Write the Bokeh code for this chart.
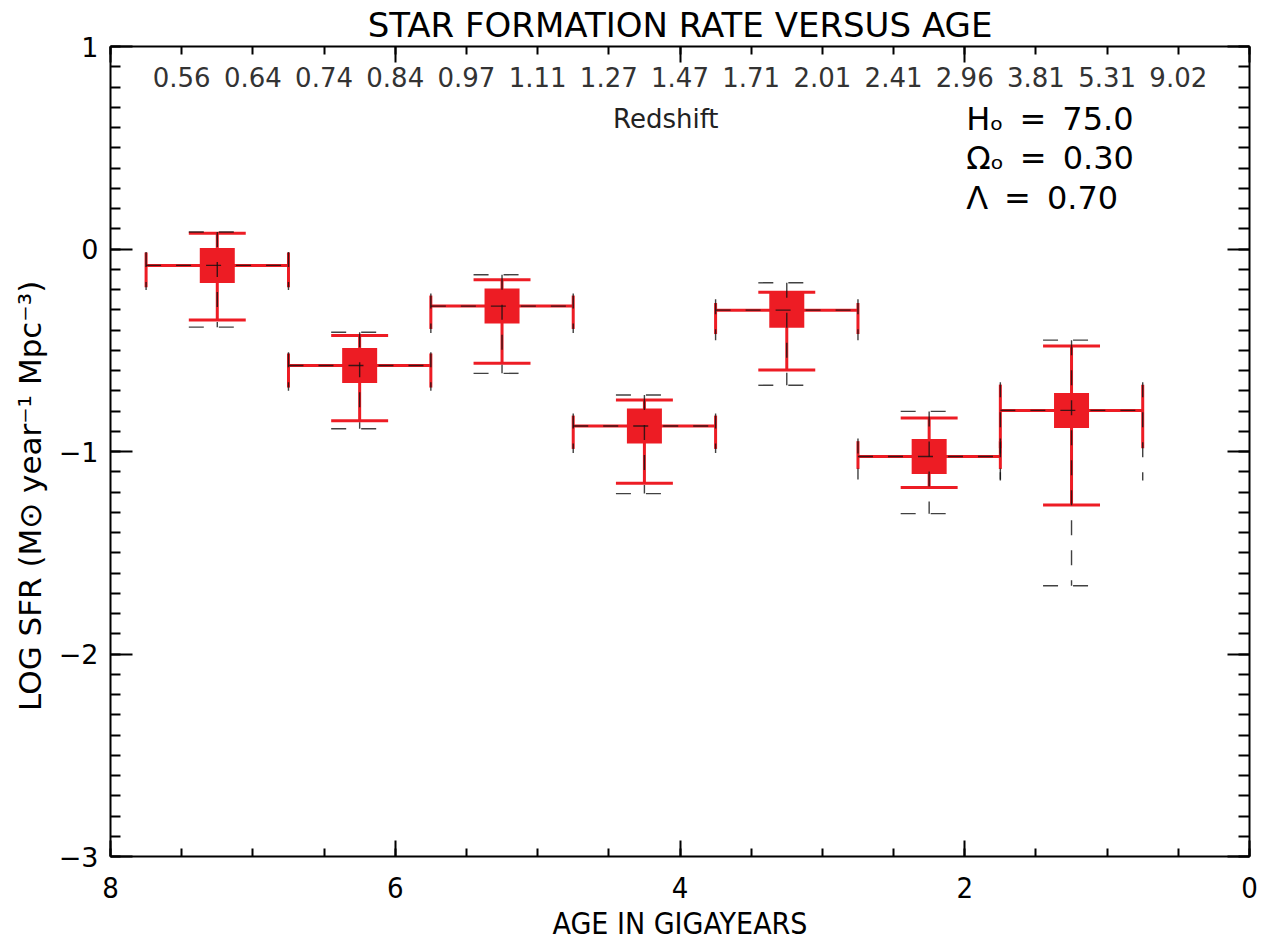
import numpy as np
from bokeh.plotting import figure
from bokeh.models import FixedTicker, LinearAxis, Range1d, Label, ColumnDataSource
from bokeh.embed import file_html
from bokeh.resources import INLINE
from bokeh.core.properties import value

# ---------------- data ----------------
age_center = [7.25, 6.25, 5.25, 4.25, 3.25, 2.25, 1.25]
age_halfwidth = [0.5, 0.5, 0.5, 0.5, 0.5, 0.5, 0.5]
log_sfr = [-0.081, -0.575, -0.282, -0.874, -0.302, -1.025, -0.797]
red_hi = [0.078, -0.427, -0.152, -0.746, -0.214, -0.835, -0.479]
red_lo = [-0.351, -0.848, -0.564, -1.157, -0.597, -1.178, -1.264]
black_hi = [0.084, -0.411, -0.127, -0.721, -0.167, -0.802, -0.450]
black_lo = [-0.386, -0.888, -0.614, -1.208, -0.673, -1.307, -1.663]

redshift_ages = [7.5, 7.0, 6.5, 6.0, 5.5, 5.0, 4.5, 4.0, 3.5, 3.0, 2.5, 2.0, 1.5, 1.0, 0.5]
redshift_labels = ["0.56", "0.64", "0.74", "0.84", "0.97", "1.11", "1.27", "1.47",
                   "1.71", "2.01", "2.41", "2.96", "3.81", "5.31", "9.02"]

x_major = [0, 2, 4, 6, 8]
y_major = [-3, -2, -1, 0, 1]
y_labels = {-3: "\u22123", -2: "\u22122", -1: "\u22121", 0: "0", 1: "1"}
SP = "\u2002"
cosmo_lines = ["H\u2092" + SP + "=" + SP + "75.0",
               "\u03a9\u2092" + SP + "=" + SP + "0.30",
               "\u039b" + SP + "=" + SP + "0.70"]

RED = "#ED1C24"
FONT = "DejaVu Sans"

# ---------------- figure ----------------
p = figure(frame_width=1139, frame_height=810,
           x_range=Range1d(8, 0), y_range=Range1d(-3, 1),
           output_backend="svg", toolbar_location=None,
           min_border_left=110, min_border_top=46, min_border_right=20,
           min_border_bottom=84, background_fill_color="white",
           border_fill_color="white")
p.outline_line_color = None
p.xgrid.visible = False
p.ygrid.visible = False

p.title.text = "STAR FORMATION RATE VERSUS AGE"
p.title.align = "center"
p.title.vertical_align = "top"
p.title.text_font = FONT
p.title.text_font_size = "34px"
p.title.text_font_style = "normal"
p.title.text_color = "black"
p.title.standoff = 0

x_minor = [round(0.5 * i, 2) for i in range(17)]
y_minor = [round(-3 + 0.1 * i, 2) for i in range(41)]

def style_axis(ax, major_in, minor_in):
    ax.axis_line_width = 2
    ax.axis_line_color = "black"
    ax.major_tick_line_width = 2
    ax.minor_tick_line_width = 2
    ax.major_tick_line_color = "black"
    ax.minor_tick_line_color = "black"
    ax.major_tick_in = major_in
    ax.major_tick_out = 0
    ax.minor_tick_in = minor_in
    ax.minor_tick_out = 0

# bottom axis
xa = p.xaxis[0]
xa.ticker = FixedTicker(ticks=x_major, minor_ticks=x_minor)
style_axis(xa, 16, 8)
xa.major_label_text_font = "DejaVu Sans Condensed"
xa.major_label_text_font_size = "29px"
xa.major_label_text_color = "black"
xa.major_label_standoff = 20
xa.axis_label = "AGE IN GIGAYEARS"
xa.axis_label_text_font = "DejaVu Sans Condensed"
xa.axis_label_text_font_size = "30px"
xa.axis_label_text_font_style = "normal"
xa.axis_label_text_color = "black"
xa.axis_label_standoff = 5

# left axis
ya = p.yaxis[0]
ya.ticker = FixedTicker(ticks=y_major, minor_ticks=y_minor)
style_axis(ya, 22, 10)
ya.major_label_overrides = y_labels
ya.major_label_text_font = FONT
ya.major_label_text_font_size = "27px"
ya.major_label_text_color = "black"
ya.major_label_standoff = 12
NB = "\u00a0"
ya.axis_label = "LOG SFR  (M\u2299  year\u207b\u00b9  Mpc\u207b\u00b3)" + NB * 6
ya.axis_label_text_font = FONT
ya.axis_label_text_font_size = "31px"
ya.axis_label_text_font_style = "normal"
ya.axis_label_text_color = "black"
ya.axis_label_standoff = 8

# top axis (redshift) ticks only
ta = LinearAxis(ticker=FixedTicker(ticks=x_major, minor_ticks=x_minor))
style_axis(ta, 16, 8)
ta.major_label_text_font_size = "1px"
ta.major_label_text_color = None
ta.major_label_standoff = 0
p.add_layout(ta, "above")

# right axis ticks only
ra = LinearAxis(ticker=FixedTicker(ticks=y_major, minor_ticks=y_minor))
style_axis(ra, 22, 11)
ra.major_label_text_font_size = "1px"
ra.major_label_text_color = None
ra.major_label_standoff = 0
p.add_layout(ra, "right")

# ---------------- error bar geometry ----------------
def bars(hi, lo):
    x0, y0, x1, y1 = [], [], [], []
    for a, hw, y, h, l in zip(age_center, age_halfwidth, log_sfr, hi, lo):
        # horizontal bar (left to right on screen)
        x0.append(a + hw); x1.append(a - hw); y0.append(y); y1.append(y)
        # vertical bar (top to bottom)
        x0.append(a); x1.append(a); y0.append(h); y1.append(l)
        # caps at vertical ends
        for yy in (h, l):
            x0.append(a + 0.4 * hw); x1.append(a - 0.4 * hw); y0.append(yy); y1.append(yy)
        # caps at horizontal ends
        for xx in (a + hw, a - hw):
            x0.append(xx); x1.append(xx)
            y0.append(y + 0.4 * (h - y)); y1.append(y - 0.4 * (y - l))
    return ColumnDataSource(dict(x0=x0, y0=y0, x1=x1, y1=y1))

p.segment("x0", "y0", "x1", "y1", source=bars(red_hi, red_lo),
          line_color=RED, line_width=3)
p.scatter(age_center, log_sfr, marker="square", size=35,
          fill_color=RED, line_color=RED, line_width=0)
p.segment("x0", "y0", "x1", "y1", source=bars(black_hi, black_lo),
          line_color="#111111", line_width=1.4, line_alpha=0.8,
          line_dash="15 15")

# redshift labels inside the top of the frame
p.text(x=redshift_ages, y=[0.847] * len(redshift_ages), text=redshift_labels,
       text_font=value(FONT), text_font_size="26px", text_color="#333333",
       text_align="center", text_baseline="middle")

p.add_layout(Label(x=4.10, y=0.644, text="Redshift", text_font=FONT,
                   text_font_size="26px", text_color="#222222",
                   text_align="center", text_baseline="middle"))

for i, t in enumerate(cosmo_lines):
    p.add_layout(Label(x=1.99, y=0.644 - 0.195 * i, text=t, text_font=FONT,
                       text_font_size="32px", text_color="black",
                       text_align="left", text_baseline="middle"))

open("out.html", "w").write(file_html(p, INLINE))
